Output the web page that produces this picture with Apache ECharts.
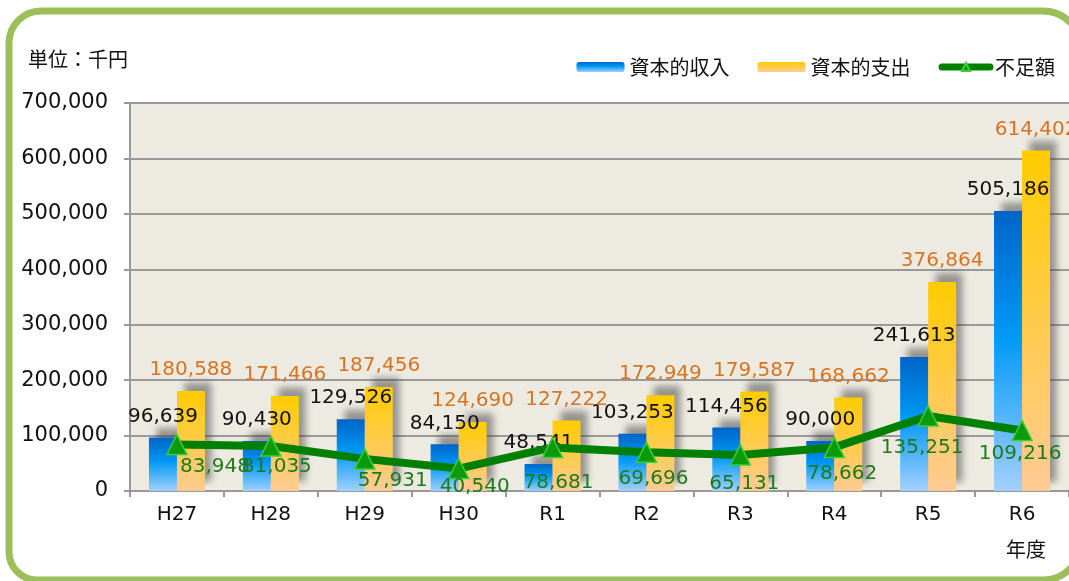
<!DOCTYPE html>
<html>
<head>
    <meta charset="utf-8">
    <title>資本的収支</title>
    <script src="https://cdn.jsdelivr.net/npm/echarts@6/dist/echarts.min.js"></script>
    <style>
        html, body { margin: 0; padding: 0; background: #fff; }
        #chartmain { width: 1069px; height: 581px; }
    </style>
</head>
<body>
<div id="chartmain"></div>
<script type="text/javascript">
    // 年度
    var years = ['H27', 'H28', 'H29', 'H30', 'R1', 'R2', 'R3', 'R4', 'R5', 'R6'];
    // 資本的収入（千円）
    var income = [96639, 90430, 129526, 84150, 48541, 103253, 114456, 90000, 241613, 505186];
    // 資本的支出（千円）
    var expense = [180588, 171466, 187456, 124690, 127222, 172949, 179587, 168662, 376864, 614402];
    // 不足額（千円）
    var deficit = [83948, 81035, 57931, 40540, 78681, 69696, 65131, 78662, 135251, 109216];

    // 不足額ラベルの位置ずらし（px）
    var deficitLabelShift = [[38, 22], [6, 21], [28, 22], [16, 18], [6, 35], [7, 26], [4, 29], [8, 26], [-6, 32], [-2, 23]];

    var numFont = 'DejaVu Sans';
    var jpFont = '"Noto Sans CJK JP", "DejaVu Sans"';

    function fmt(v) {
        return String(v).replace(/\B(?=(\d{3})+(?!\d))/g, ',');
    }

    var barShadow = {
        shadowColor: 'rgba(60,60,60,0.5)',
        shadowBlur: 7,
        shadowOffsetX: 7,
        shadowOffsetY: -9
    };

    var myChart = echarts.init(document.getElementById('chartmain'));
    myChart.setOption({
        animation: false,
        backgroundColor: '#fff',
        textStyle: { fontFamily: numFont },
        legend: {
            right: 9,
            top: 52,
            itemWidth: 48,
            itemHeight: 10,
            itemGap: 28,
            textStyle: { fontFamily: jpFont, fontSize: 20, color: '#111' },
            data: [
                '資本的収入',
                '資本的支出',
                { name: '不足額', lineStyle: { width: 7, cap: 'round' } }
            ]
        },
        grid: {
            left: 130,
            top: 103,
            width: 944,
            bottom: 90,
            show: true,
            backgroundColor: '#edebe1',
            borderWidth: 0
        },
        xAxis: {
            type: 'category',
            data: years,
            axisLine: { lineStyle: { color: '#999', width: 2 } },
            axisTick: { show: true, length: 6, lineStyle: { color: '#999', width: 2 } },
            axisLabel: { fontSize: 20, color: '#111', margin: 14, fontFamily: numFont }
        },
        yAxis: {
            type: 'value',
            min: 0,
            max: 700000,
            interval: 100000,
            axisLine: { show: true, lineStyle: { color: '#999', width: 2 } },
            axisTick: { show: true, length: 6, lineStyle: { color: '#999', width: 2 } },
            splitLine: { lineStyle: { color: '#999', width: 2 } },
            axisLabel: { fontSize: 21, color: '#111', margin: 22, fontFamily: numFont, formatter: fmt }
        },
        series: [
            {
                name: '資本的収入',
                type: 'bar',
                data: income,
                barWidth: 28,
                barGap: '0%',
                itemStyle: Object.assign({
                    color: new echarts.graphic.LinearGradient(0, 0, 0, 1, [
                        { offset: 0, color: '#0064c8' },
                        { offset: 0.45, color: '#0099f5' },
                        { offset: 1, color: '#a2d0ff' }
                    ])
                }, barShadow),
                label: {
                    show: true,
                    position: 'top',
                    distance: 11,
                    fontSize: 20,
                    color: '#111',
                    formatter: function (p) { return fmt(p.value); }
                }
            },
            {
                name: '資本的支出',
                type: 'bar',
                data: expense,
                barWidth: 28,
                barGap: '0%',
                itemStyle: Object.assign({
                    color: new echarts.graphic.LinearGradient(0, 0, 0, 1, [
                        { offset: 0, color: '#ffcc00' },
                        { offset: 1, color: '#ffcb95' }
                    ])
                }, barShadow),
                label: {
                    show: true,
                    position: 'top',
                    distance: 11,
                    fontSize: 20,
                    color: '#d9731f',
                    formatter: function (p) { return fmt(p.value); }
                }
            },
            {
                name: '不足額',
                type: 'line',
                z: 5,
                data: deficit.map(function (v, i) {
                    return { value: v, label: { offset: deficitLabelShift[i] } };
                }),
                symbol: 'triangle',
                symbolSize: 20,
                lineStyle: { color: '#008000', width: 8 },
                itemStyle: { color: '#0a9a0a', borderColor: '#3ccc3c', borderWidth: 1.5 },
                label: {
                    show: true,
                    position: 'inside',
                    fontSize: 20,
                    color: '#1e7a1e',
                    formatter: function (p) { return fmt(p.value); }
                }
            }
        ],
        graphic: [
            {
                type: 'rect',
                shape: { x: 9, y: 11, width: 1072, height: 569, r: [32, 38, 38, 28] },
                style: { fill: null, stroke: '#9cbf5a', lineWidth: 7 },
                silent: true,
                z: 10
            },
            {
                type: 'text',
                left: 28,
                top: 49,
                style: { text: '単位：千円', font: '20px "Noto Sans CJK JP"', fill: '#111' }
            },
            {
                type: 'text',
                left: 1006,
                top: 539,
                style: { text: '年度', font: '20px "Noto Sans CJK JP"', fill: '#111' }
            }
        ]
    });
</script>
</body>
</html>
